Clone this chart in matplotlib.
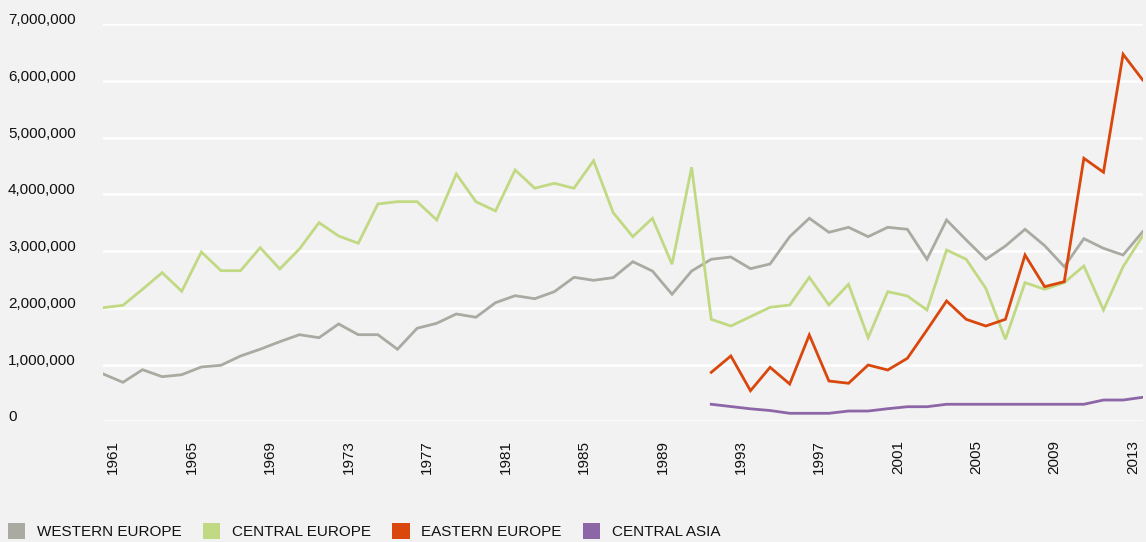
import numpy as np
import matplotlib
matplotlib.use('Agg')
import matplotlib.pyplot as plt
import matplotlib.patches as mpatches
import matplotlib.transforms as mtransforms
from matplotlib.ticker import FuncFormatter

plt.rcParams['font.family'] = ['Liberation Sans', 'DejaVu Sans']

# values in millions
years = list(range(1961, 2015))
years_east = list(range(1992, 2015))

western = [0.833, 0.687, 0.909, 0.786, 0.821, 0.957, 0.987, 1.151, 1.27, 1.403,
           1.526, 1.473, 1.715, 1.526, 1.526, 1.269, 1.639, 1.727, 1.891, 1.833,
           2.090, 2.213, 2.160, 2.284, 2.537, 2.484, 2.531, 2.812, 2.648, 2.238,
           2.648, 2.855, 2.895, 2.689, 2.772, 3.253, 3.577, 3.330, 3.418, 3.253,
           3.418, 3.383, 2.855, 3.547, 3.195, 2.855, 3.089, 3.383, 3.095, 2.724,
           3.218, 3.048, 2.930, 3.341]
central = [2.002, 2.044, 2.326, 2.619, 2.291, 2.983, 2.654, 2.654, 3.059, 2.684,
           3.036, 3.500, 3.265, 3.137, 3.829, 3.870, 3.870, 3.547, 4.358, 3.870,
           3.706, 4.428, 4.106, 4.194, 4.106, 4.592, 3.676, 3.253, 3.577, 2.767,
           4.476, 1.797, 1.679, 1.843, 2.009, 2.049, 2.537, 2.049, 2.414, 1.473,
           2.284, 2.208, 1.961, 3.018, 2.855, 2.343, 1.445, 2.443, 2.326, 2.443,
           2.737, 1.961, 2.724, 3.265]
eastern = [0.863, 1.151, 0.539, 0.951, 0.657, 1.521, 0.710, 0.670, 0.992, 0.904,
           1.110, 1.609, 2.120, 1.797, 1.679, 1.797, 2.930, 2.372, 2.460, 4.634,
           4.388, 6.467, 6.014]
central_asia = [0.30, 0.26, 0.22, 0.19, 0.141, 0.141, 0.141, 0.181, 0.181, 0.222,
                0.257, 0.257, 0.300, 0.300, 0.300, 0.300, 0.300, 0.300, 0.300, 0.300,
                0.375, 0.375, 0.423]

names = ['WESTERN EUROPE', 'CENTRAL EUROPE', 'EASTERN EUROPE', 'CENTRAL ASIA']
colors = ['#aaaaa2', '#c2d984', '#d9470c', '#8c66a6']
bg = '#f2f2f2'

W, H = 1146, 542
fig = plt.figure(figsize=(W / 100, H / 100), dpi=100, facecolor=bg)
ax = fig.add_axes([103.3 / W, 1 - 421.3 / H, (1142.7 - 103.3) / W, (421.3 - 24) / H])
ax.set_facecolor(bg)

series = [(years, western), (years, central), (years_east, eastern), (years_east, central_asia)]
for (xs, vals), c in zip(series, colors):
    ax.plot(xs, np.array(vals) * 1e6, color=c, lw=2.0, solid_joinstyle='miter', zorder=3)

ax.set_xlim(1961, 2014)
ax.set_ylim(0, 7e6)
ax.set_yticks(np.arange(0, 7e6 + 1, 1e6))
ax.yaxis.set_major_formatter(FuncFormatter(lambda v, p: f'{int(v):,}'))
ax.set_xticks(years[::4])
ax.grid(axis='y', color='white', lw=1.8, zorder=1)
ax.grid(axis='x', visible=False)
for s in ax.spines.values():
    s.set_visible(False)

ax.tick_params(axis='y', length=0, pad=95.3 * 0.72, labelsize=11, labelcolor='#111111')
ax.tick_params(axis='x', length=0, pad=13.5, labelsize=11, labelcolor='#111111')
for lab in ax.get_yticklabels():
    lab.set_horizontalalignment('left')
    lab.set_verticalalignment('baseline')
shift = mtransforms.ScaledTranslation(3 / 100, 0, fig.dpi_scale_trans)
for lab in ax.get_xticklabels():
    lab.set_rotation(90)
    lab.set_horizontalalignment('left')
    lab.set_verticalalignment('top')
    lab.set_transform(lab.get_transform() + shift)

handles = [mpatches.Patch(facecolor=c, edgecolor='none', label=n) for n, c in zip(names, colors)]
fig.legend(handles=handles, loc='center left', bbox_to_anchor=(8 / W, 1 - 531 / H),
           ncol=4, frameon=False, fontsize=11, handlelength=1.12, handleheight=1.18,
           handletextpad=0.78, columnspacing=1.4, borderpad=0, borderaxespad=0,
           labelcolor='#111111')

fig.savefig('out.png', dpi=100, facecolor=bg)
